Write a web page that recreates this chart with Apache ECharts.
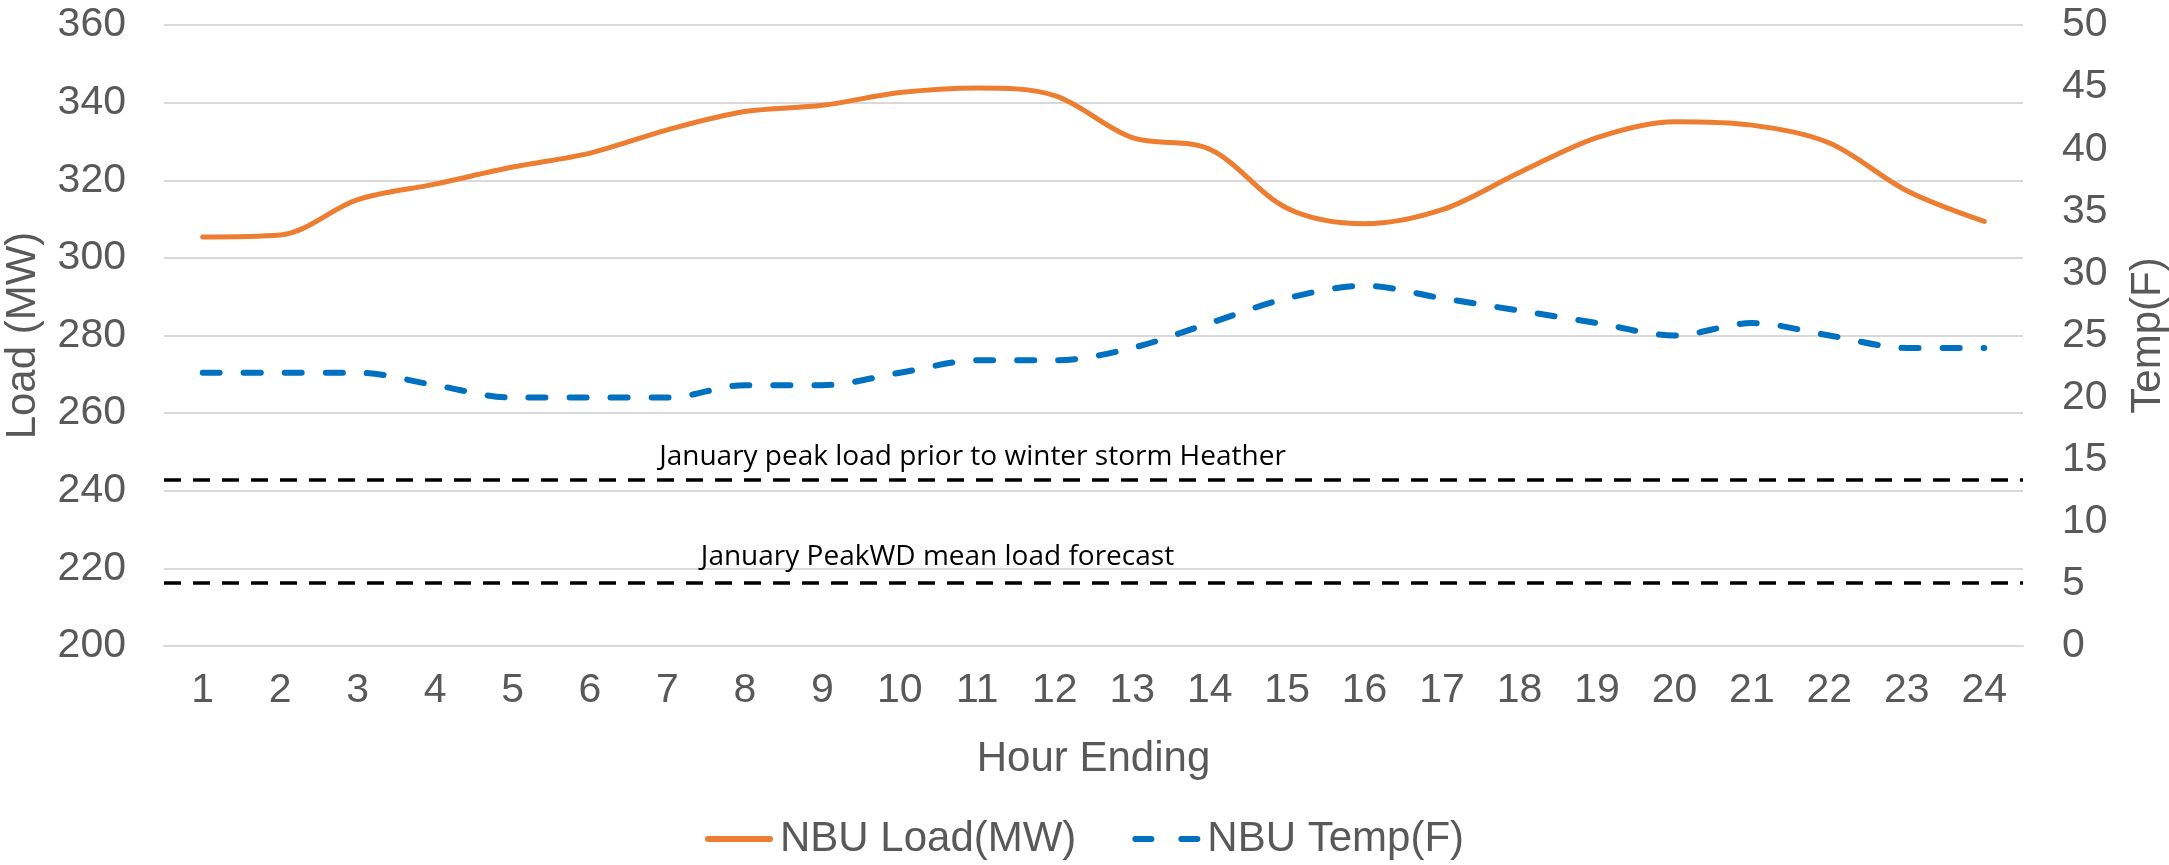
<!doctype html>
<html>
<head>
<meta charset="UTF-8">
<title>NBU Load and Temp</title>
<script src="https://cdn.jsdelivr.net/npm/echarts@6/dist/echarts.min.js"></script>
<style>
  html, body { margin: 0; padding: 0; background: #fff; }
  #chart { width: 2169px; height: 865px; }
</style>
</head>
<body>
<div id="chart"></div>
<script>
  // hour ending categories
  var hours = ['1','2','3','4','5','6','7','8','9','10','11','12',
               '13','14','15','16','17','18','19','20','21','22','23','24'];

  // NBU load in MW
  var loadMW = [305.4, 305.9, 315.0, 319.0, 323.4, 327.0, 333.0, 337.7, 339.3, 342.6, 343.8, 341.8,
                331.0, 328.0, 312.8, 308.8, 312.4, 322.0, 331.0, 335.1, 334.2, 329.6, 317.3, 309.4];

  // NBU temperature in F
  var tempF = [22, 22, 22, 21, 20, 20, 20, 21, 21, 22, 23, 23,
               24, 26, 28, 29, 28, 27, 26, 25, 26, 25, 24, 24];

  // reference load levels (MW) and their captions
  var refValues = [242.8, 216.3];
  var refLabels = ['January peak load prior to winter storm Heather', 'January PeakWD mean load forecast'];
  var refOffsets = [[-121, -4], [-156, -7]];

  var grey = '#595959';
  var font = "'Liberation Sans', Arial, sans-serif";

  // legend icons: solid line and two rounded dashes
  var solidIcon = 'path://M3,0h62a3,3 0 0 1 0,6h-62a3,3 0 0 1 0,-6z';
  var dashIcon = 'path://M3,0h16a3,3 0 0 1 0,6h-16a3,3 0 0 1 0,-6z M49,0h16a3,3 0 0 1 0,6h-16a3,3 0 0 1 0,-6z';

  var myChart = echarts.init(document.getElementById('chart'));

  var refLines = refValues.map(function (v, i) {
    return {
      yAxis: v,
      label: {
        show: true,
        formatter: refLabels[i],
        position: 'insideMiddleTop',
        offset: refOffsets[i],
        color: '#000',
        fontFamily: "'Open Sans', sans-serif",
        fontSize: 28
      }
    };
  });

  var option = {
    animation: false,
    textStyle: { fontFamily: font },
    grid: {
      left: 164, right: 146, top: 25, bottom: 219,
      containLabel: false,
      outerBoundsMode: 'none'
    },
    legend: {
      bottom: 0,
      left: 'center',
      itemWidth: 68,
      itemHeight: 6,
      itemGap: 56,
      textStyle: { color: grey, fontSize: 42, fontFamily: font, padding: [0, 0, 0, 2] },
      data: [
        { name: 'NBU Load(MW)', icon: solidIcon },
        { name: 'NBU Temp(F)', icon: dashIcon }
      ]
    },
    xAxis: {
      type: 'category',
      data: hours,
      boundaryGap: true,
      name: 'Hour Ending',
      nameLocation: 'middle',
      nameGap: 92,
      nameTextStyle: { color: grey, fontSize: 42, fontFamily: font },
      axisLine: { show: true, lineStyle: { color: '#D9D9D9', width: 2 } },
      axisTick: { show: false },
      axisLabel: { color: grey, fontSize: 41, margin: 24, fontFamily: font }
    },
    yAxis: [
      {
        type: 'value',
        min: 200, max: 360, interval: 20,
        name: 'Load (MW)',
        nameLocation: 'middle',
        nameRotate: 90,
        nameGap: 120,
        nameTextStyle: { color: grey, fontSize: 42, fontFamily: font },
        axisLine: { show: false },
        axisTick: { show: false },
        axisLabel: { color: grey, fontSize: 41, margin: 38, fontFamily: font },
        splitLine: { lineStyle: { color: '#D9D9D9', width: 2 } }
      },
      {
        type: 'value',
        min: 0, max: 50, interval: 5,
        name: 'Temp(F)',
        nameLocation: 'middle',
        nameRotate: 90,
        nameGap: 104,
        nameTextStyle: { color: grey, fontSize: 42, fontFamily: font },
        axisLine: { show: false },
        axisTick: { show: false },
        axisLabel: { color: grey, fontSize: 41, margin: 39, fontFamily: font },
        splitLine: { show: false }
      }
    ],
    series: [
      {
        name: 'NBU Load(MW)',
        type: 'line',
        yAxisIndex: 0,
        data: loadMW,
        smooth: 0.33,
        symbol: 'none',
        lineStyle: { color: '#ED7D31', width: 5, cap: 'round' },
        itemStyle: { color: '#ED7D31' },
        markLine: {
          silent: true,
          symbol: 'none',
          lineStyle: { color: '#000', type: [17, 12], width: 3.5 },
          data: refLines
        }
      },
      {
        name: 'NBU Temp(F)',
        type: 'line',
        yAxisIndex: 1,
        data: tempF,
        smooth: 0.33,
        symbol: 'none',
        lineStyle: { color: '#0070C0', width: 6, type: [17, 24], cap: 'round' },
        itemStyle: { color: '#0070C0' }
      }
    ]
  };

  myChart.setOption(option);
</script>
</body>
</html>
